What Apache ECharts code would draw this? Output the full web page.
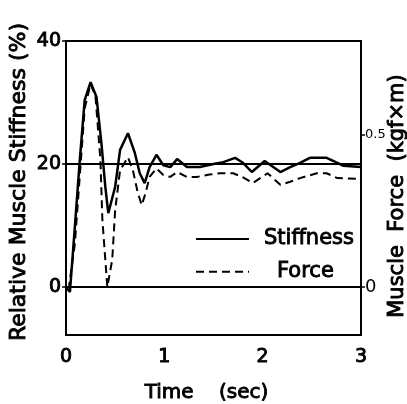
<!DOCTYPE html>
<html>
<head>
<meta charset="utf-8">
<script src="https://cdn.jsdelivr.net/npm/echarts@6/dist/echarts.min.js"></script>
<style>
  html, body { margin: 0; padding: 0; background: #fff; }
  #chart { width: 407px; height: 404px; }
</style>
</head>
<body>
<div id="chart"></div>
<script>
// stiffness, % (left axis)
const stiffTime = [0, 0.04, 0.09, 0.14, 0.19, 0.25, 0.31, 0.36, 0.40, 0.43, 0.50, 0.55, 0.63, 0.70, 0.75, 0.80,
  0.85, 0.92, 0.99, 1.06, 1.13, 1.23, 1.36, 1.50, 1.60, 1.72, 1.80, 1.89, 2.02, 2.18, 2.28, 2.38, 2.48,
  2.65, 2.76, 2.82, 3.0]
const stiffValues = [0, -0.8, 9.8, 20.6, 30.4, 33.3, 30.9, 23.4, 16.3, 12.0, 16.3, 22.3, 25.0, 21.8, 18.5, 16.9,
  19.5, 21.5, 19.8, 19.5, 20.8, 19.5, 19.5, 20.0, 20.3, 21.0, 20.2, 18.7, 20.5, 18.7, 19.5, 20.2, 21.0,
  21.0, 20.2, 19.7, 19.5]

// muscle force, kgf x m (right axis)
const forceTime = [0, 0.03, 0.09, 0.14, 0.19, 0.25, 0.30, 0.35, 0.37, 0.40, 0.42, 0.47, 0.50, 0.55, 0.63, 0.68,
  0.73, 0.77, 0.81, 0.85, 0.92, 0.99, 1.06, 1.13, 1.23, 1.33, 1.46, 1.57, 1.70, 1.79, 1.90, 2.05, 2.18,
  2.28, 2.38, 2.55, 2.65, 2.76, 2.96, 3.0]
const forceValues = [0, 0, 0.142, 0.364, 0.587, 0.668, 0.627, 0.417, 0.221, 0.089, 0, 0.089, 0.253, 0.384, 0.427, 0.384,
  0.310, 0.269, 0.310, 0.362, 0.390, 0.368, 0.362, 0.378, 0.362, 0.362, 0.370, 0.374, 0.374, 0.362, 0.342, 0.374, 0.336,
  0.346, 0.358, 0.374, 0.374, 0.358, 0.356, 0.356]

const xTicks = [0, 1, 2, 3]
const leftTicks = [0, 20, 40]
const rightTicks = [0, 0.5]
const refLines = [0, 20]

const font = 'DejaVu Sans'
const black = '#000'
// slightly heavier than regular, like the plotter lettering
const txt = (size, extra) => Object.assign({
  fontFamily: font, fontSize: size, color: black, textBorderColor: black, textBorderWidth: 0.9
}, extra || {})

const chart = echarts.init(document.getElementById('chart'))

chart.setOption({
  animation: false,
  backgroundColor: '#fff',
  grid: {
    left: 66, right: 46, top: 41, bottom: 69,
    containLabel: false, outerBoundsMode: 'none',
    show: true, borderColor: black, borderWidth: 2
  },
  legend: {
    orient: 'vertical',
    left: 190, top: 223,
    itemWidth: 53, itemHeight: 14, itemGap: 11,
    data: ['Stiffness', 'Force'],
    itemStyle: { opacity: 0 },
    formatter: name => name === 'Force' ? '{f|' + name + '}' : '{s|' + name + '}',
    textStyle: txt(21, {
      rich: {
        s: txt(21, { padding: [0, 0, 0, 10] }),
        f: txt(21, { padding: [0, 0, 0, 23] })
      }
    })
  },
  xAxis: {
    type: 'value', min: 0, max: 3, interval: 1,
    name: 'Time    (sec)', nameLocation: 'middle', nameGap: 48, nameMoveOverlap: false,
    nameTextStyle: txt(20, { padding: [0, 14, 0, 0] }),
    axisLine: { show: true, lineStyle: { color: black, width: 2 } },
    axisTick: { show: false },
    splitLine: { show: false },
    axisLabel: Object.assign({ customValues: xTicks, margin: 13 }, txt(19))
  },
  yAxis: [{
    type: 'value', min: -7.8, max: 40, position: 'left',
    name: 'Relative Muscle Stiffness (%)', nameLocation: 'middle', nameRotate: 90,
    nameGap: 36, nameMoveOverlap: false,
    nameTextStyle: txt(22, { padding: [0, 0, 0, 12] }),
    axisLine: { show: true, lineStyle: { color: black, width: 2 } },
    axisTick: { show: true, customValues: leftTicks, length: 4, lineStyle: { color: black, width: 1.5 } },
    splitLine: { show: false },
    axisLabel: Object.assign({ customValues: leftTicks, margin: 5 }, txt(19))
  }, {
    type: 'value', min: -0.158, max: 0.809, position: 'right',
    name: 'Muscle  Force  (kgf×m)', nameLocation: 'middle', nameRotate: 90,
    nameGap: 26, nameMoveOverlap: false,
    nameTextStyle: txt(21, { padding: [0, 16, 0, 0] }),
    axisLine: { show: true, lineStyle: { color: black, width: 2 } },
    axisTick: { show: true, customValues: rightTicks, length: 4, lineStyle: { color: black, width: 1.5 } },
    splitLine: { show: false },
    axisLabel: {
      customValues: rightTicks,
      margin: 4,
      formatter: v => v === 0 ? '{z|0}' : '{h|' + v + '}',
      rich: {
        z: { fontFamily: font, fontSize: 18, color: black },
        h: { fontFamily: font, fontSize: 13, color: black }
      }
    }
  }],
  series: [{
    name: 'Stiffness',
    type: 'line',
    yAxisIndex: 0,
    symbol: 'none',
    data: stiffTime.map((t, i) => [t, stiffValues[i]]),
    lineStyle: { color: black, width: 2.5 },
    itemStyle: { color: black },
    markLine: {
      silent: true, symbol: 'none', label: { show: false },
      lineStyle: { color: black, width: 2, type: 'solid' },
      data: refLines.map(v => ({ yAxis: v }))
    }
  }, {
    name: 'Force',
    type: 'line',
    yAxisIndex: 1,
    symbol: 'none',
    data: forceTime.map((t, i) => [t, forceValues[i]]),
    lineStyle: { color: black, width: 2, type: [8, 5] },
    itemStyle: { color: black }
  }]
})
</script>
</body>
</html>
